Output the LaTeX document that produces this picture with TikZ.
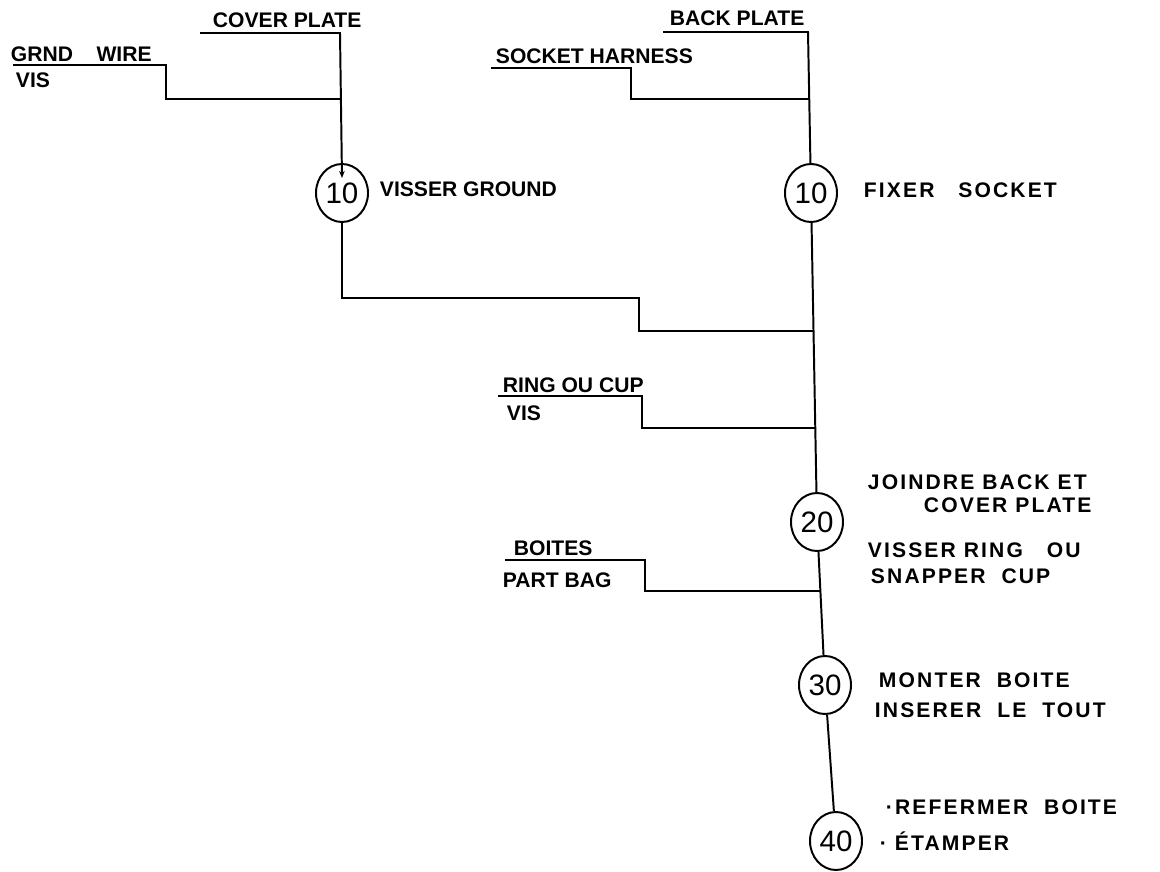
\documentclass[tikz,border=0pt]{standalone}
\usepackage{fontspec}
\setmainfont{Liberation Sans}
\newfontfamily\widehand{Liberation Sans}[LetterSpace=10]
\usetikzlibrary{shapes.geometric,arrows.meta}

\begin{document}
\begin{tikzpicture}[x=0.025cm, y=-0.025cm, line width=1.4pt,
    op/.style={draw, ellipse, minimum width=1.3cm, minimum height=1.45cm, inner sep=0pt,
               font=\fontsize{21}{23}\selectfont},
    lbl/.style={anchor=west, inner sep=0pt, font=\fontsize{15}{17}\selectfont\bfseries},
    optext/.style={lbl, font=\widehand\fontsize{15}{17}\selectfont\bfseries}]
    \useasboundingbox (0,0) rectangle (1160,872);

    % Operation circles
    \node[op] (op10a) at (342,193) {10};
    \node[op] (op10b) at (811,193) {10};
    \node[op] (op20) at (817,522) {20};
    \node[op] (op30) at (825,685) {30};
    \node[op] (op40) at (836,841) {40};

    % Parts coming in (line ends and bends)
    \coordinate (coverL) at (200,33);
    \coordinate (coverR) at (340,33);
    \coordinate (tip10a) at (342,178);
    \coordinate (grndL) at (13,65);
    \coordinate (grndR) at (166,65);
    \coordinate (grndJ) at (340,99);
    \coordinate (backL) at (663,32);
    \coordinate (backR) at (808,32);
    \coordinate (sockL) at (491,68);
    \coordinate (sockR) at (631,68);
    \coordinate (sockJ) at (809,99);
    \coordinate (bendA) at (639,298);
    \coordinate (joinA) at (813,331);
    \coordinate (ringL) at (498,396);
    \coordinate (ringR) at (642,396);
    \coordinate (ringJ) at (815,428);
    \coordinate (boxL) at (505,560);
    \coordinate (boxR) at (645,560);
    \coordinate (boxJ) at (820,591);

    % Left sub-assembly
    \draw[-{Stealth[length=5pt,width=4pt]}] (coverL) -- (coverR) -- (tip10a);
    \draw (grndL) -- (grndR) |- (grndJ);
    \draw (op10a.south) |- (bendA) |- (joinA);

    % Main line
    \draw (backL) -- (backR) -- (op10b);
    \draw (sockL) -- (sockR) |- (sockJ);
    \draw (op10b) -- (op20) -- (op30) -- (op40);
    \draw (ringL) -- (ringR) |- (ringJ);
    \draw (boxL) -- (boxR) |- (boxJ);

    % Part names
    \node[lbl] (tCover) at (212,20) {COVER PLATE};
    \node[lbl] (tGrnd) at (10,54) {GRND\ \ \ \ WIRE};
    \node[lbl] (tVisA) at (15,80) {VIS};
    \node[lbl] (tBack) at (669,18) {BACK PLATE};
    \node[lbl] (tSock) at (495,56) {SOCKET HARNESS};
    \node[lbl] (tRing) at (502,385) {RING OU CUP};
    \node[lbl] (tVisB) at (506,413) {VIS};
    \node[lbl] (tBoites) at (513,548) {BOITES};
    \node[lbl] (tBag) at (502,580) {PART BAG};

    % Operation texts
    \node[lbl] (tVisser) at (379,189) {VISSER GROUND};
    \node[optext] (tFixer) at (863,190) {FIXER\ \ \ SOCKET};
    \node[optext] (tJoin1) at (867,482) {JOINDRE\ BACK ET};
    \node[optext] (tJoin2) at (923,505) {COVER\ PLATE};
    \node[optext] (tRing1) at (867,550) {VISSER\ RING\ \ \ OU};
    \node[optext] (tRing2) at (870,576) {SNAPPER\ \ CUP};
    \node[optext] (tMont1) at (878,680) {MONTER\ \ BOITE};
    \node[optext] (tMont2) at (874,710) {INSERER\ \ LE\ \ TOUT};
    \node[optext] (tRef1) at (885,807) {·REFERMER\ \ BOITE};
    \node[optext] (tRef2) at (879,841) {·\ ÉTAMPER};
\end{tikzpicture}
\end{document}
